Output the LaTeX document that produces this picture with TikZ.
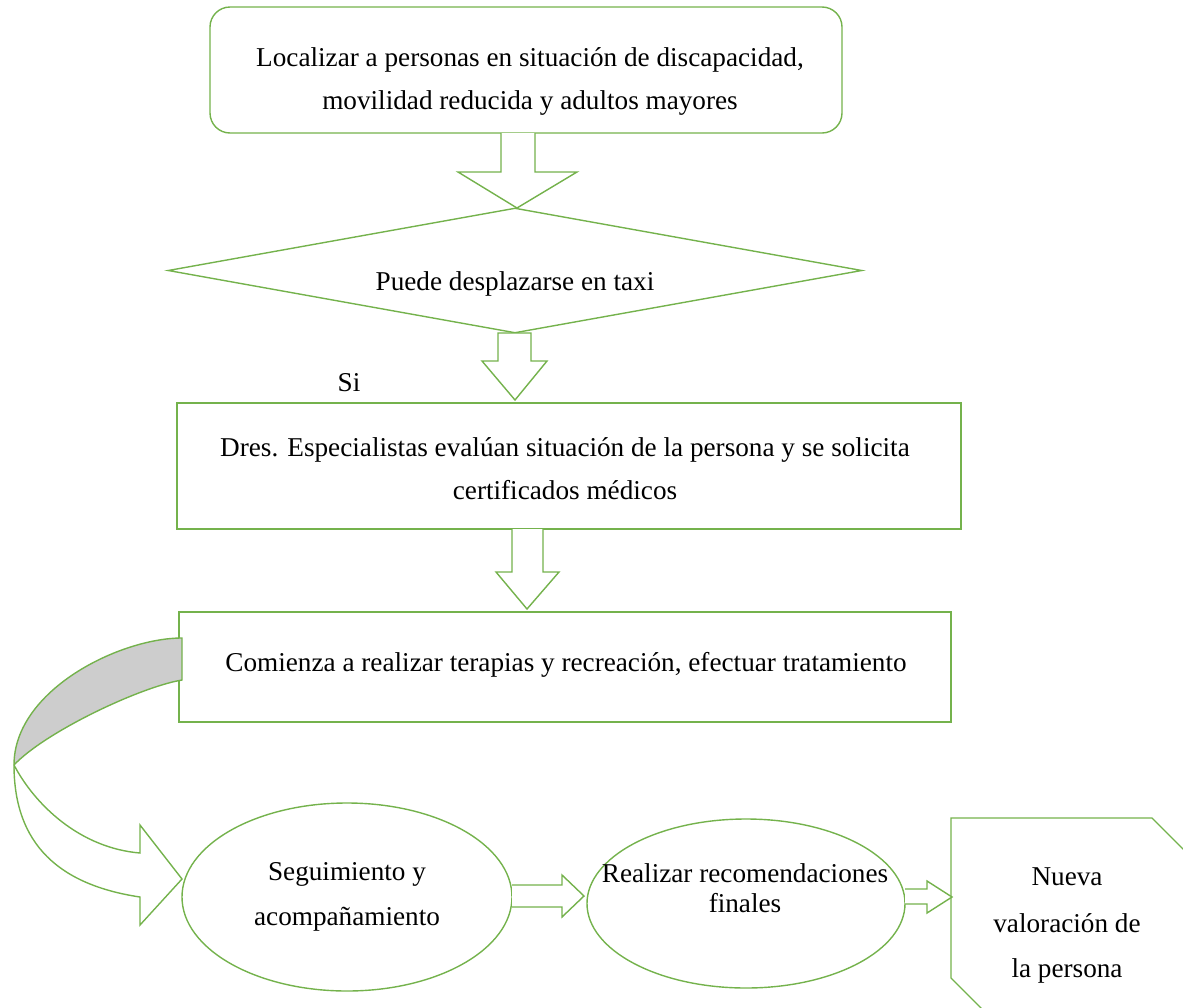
\documentclass[tikz,border=0pt]{standalone}
\usepackage{fontspec}
\setmainfont{Liberation Serif}
\usetikzlibrary{shapes.geometric}
\definecolor{grn}{RGB}{116,178,76}
\definecolor{band}{RGB}{205,205,205}
\begin{document}
\begin{tikzpicture}[x=1pt,y=-1pt,
  shp/.style={draw=grn, line width=1.4pt, inner sep=0pt},
  txt/.style={anchor=base, inner sep=0pt, font=\fontsize{27.2}{32}\selectfont},
  blk/.style={draw=grn, line width=1.4pt, line join=miter, fill=white}]
\useasboundingbox (0,0) rectangle (1183,1007);
\clip (0,0) rectangle (1183,1007);

% boxes
\node[shp, rounded corners=20pt, minimum width=632pt, minimum height=126pt] (loc) at (526,70) {};
\node[txt] (loc1) at (530,66) {Localizar a personas en situación de discapacidad,};
\node[txt] (loc2) at (530,109) {movilidad reducida y adultos mayores};

\node[shp, diamond, minimum width=694pt, minimum height=125pt] (dec) at (515,270.5) {};
\node[txt] (dect) at (515,290) {Puede desplazarse en taxi};
\node[txt] (si) at (349,391) {Si};

\node[shp, rectangle, minimum width=784pt, minimum height=126pt] (dres) at (569,466) {};
\node[txt] (dres1) at (565,456) {Dres. Especialistas evalúan situación de la persona y se solicita};
\node[txt] (dres2) at (565,499) {certificados médicos};

\node[shp, rectangle, minimum width=772pt, minimum height=110pt] (com) at (565,667) {};
\node[txt] (com1) at (566,671) {Comienza a realizar terapias y recreación, efectuar tratamiento};

\node[shp, ellipse, minimum width=330pt, minimum height=188pt] (seg) at (347,897) {};
\node[txt] (seg1) at (347,880) {Seguimiento y};
\node[txt] (seg2) at (347,925) {acompañamiento};

\node[shp, ellipse, minimum width=318pt, minimum height=169pt] (rec) at (746,903.5) {};
\node[txt] (rec1) at (745,882) {Realizar recomendaciones};
\node[txt] (rec2) at (745,912) {finales};

\draw[shp] (1192,858) -- (1152,818) -- (951,818) -- (951,978) -- (992,1019);
\node[txt] (nv1) at (1067,885) {Nueva};
\node[txt] (nv2) at (1067,932) {valoración de};
\node[txt] (nv3) at (1067,977) {la persona};

% block arrows
\draw[blk] (501,133) -- (501,172) -- (458,172) -- (517,208) -- (577,172) -- (535,172) -- (535,133);
\draw[blk] (498,333) -- (498,361) -- (482,361) -- (515,400) -- (547,361) -- (531,361) -- (531,333) -- cycle;
\draw[blk] (512,529) -- (512,572) -- (496,572) -- (527,609) -- (559,572) -- (543,572) -- (543,529);
\draw[blk] (512,885) -- (562,885) -- (562,875) -- (584,896) -- (562,917) -- (562,907) -- (512,907);
\draw[blk] (905,889) -- (927,889) -- (927,881) -- (952,897) -- (927,913) -- (927,904) -- (905,904);

% curved arrow
\fill[band] (182,638) .. controls (120,638) and (14,690) .. (14,765)
  .. controls (45,732) and (140,687) .. (182,680) -- cycle;
\draw[shp, line join=miter] (182,680) .. controls (140,687) and (45,732) .. (14,765)
  .. controls (35,805) and (80,848) .. (140,853) -- (140,825) -- (182,879) -- (140,925) -- (140,897)
  .. controls (60,885) and (14,845) .. (14,765)
  .. controls (14,690) and (120,638) .. (182,638) -- cycle;
\end{tikzpicture}
\end{document}
